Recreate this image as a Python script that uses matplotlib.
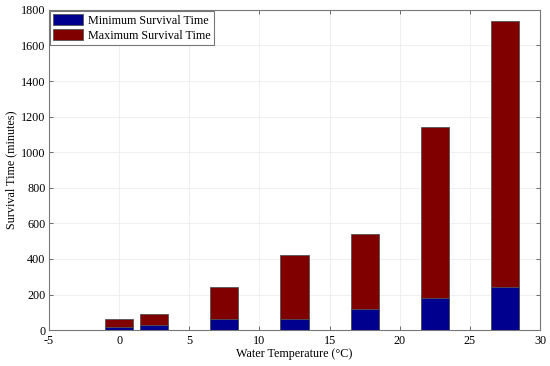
import matplotlib
matplotlib.use("Agg")
import matplotlib.pyplot as plt

temps = [0, 2.5, 7.5, 12.5, 17.5, 22.5, 27.5]
min_survival = [15, 30, 60, 60, 120, 180, 240]
max_survival = [60, 90, 240, 420, 540, 1140, 1740]

plt.rcParams['font.family'] = ['Liberation Serif', 'DejaVu Serif']
plt.rcParams['font.size'] = 8.7
plt.rcParams['axes.unicode_minus'] = False

fig = plt.figure(figsize=(5.5, 3.66), dpi=100)
ax = fig.add_axes([0.089, 0.098, 0.893, 0.875])

ax.bar(temps, max_survival, width=2, color='#800000', edgecolor='#555555', linewidth=0.6,
       label='Maximum Survival Time', zorder=3)
ax.bar(temps, min_survival, width=2, color='#00008F', edgecolor='#555555', linewidth=0.6,
       label='Minimum Survival Time', zorder=4)

ax.set_xlim(-5, 30)
ax.set_ylim(0, 1800)
ax.set_xticks(range(-5, 31, 5))
ax.set_yticks(range(0, 1801, 200))
ax.grid(True, color='#ececec', linewidth=0.6, zorder=0)
ax.tick_params(direction='in', top=True, right=True, length=3, width=0.6, colors='#555555',
               labelcolor='black')
ax.tick_params(axis='x', pad=3.5)
ax.tick_params(axis='y', pad=2.5)
for s in ax.spines.values():
    s.set_color('#777777')
    s.set_linewidth(0.8)

ax.set_xlabel('Water Temperature (°C)', labelpad=1)
ax.set_ylabel('Survival Time (minutes)', labelpad=3)

handles, labels = ax.get_legend_handles_labels()
leg = ax.legend(handles[::-1], labels[::-1], loc='upper left', fancybox=False,
                edgecolor='#777777', borderaxespad=0.1, handlelength=2.5, handleheight=1.0,
                handletextpad=0.4, borderpad=0.25, labelspacing=0.2, framealpha=1)
leg.get_frame().set_linewidth(0.8)

fig.savefig('out.png', dpi=100)
